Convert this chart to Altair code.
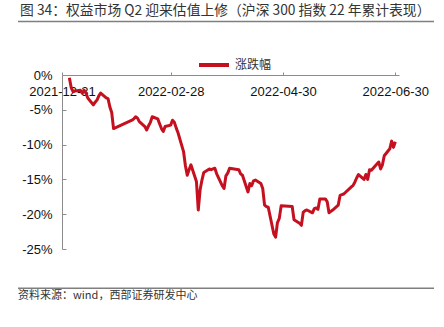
import altair as alt
import pandas as pd

dates = [
    "01-04", "01-05", "01-06", "01-07", "01-10", "01-11", "01-12", "01-13", "01-14",
    "01-17", "01-18", "01-19", "01-20", "01-21", "01-24", "01-25", "01-26", "01-27", "01-28",
    "02-07", "02-08", "02-09", "02-10", "02-11", "02-14", "02-15", "02-16", "02-17", "02-18",
    "02-21", "02-22", "02-23", "02-24", "02-25", "02-28",
    "03-01", "03-02", "03-03", "03-04", "03-07", "03-08", "03-09", "03-10", "03-11",
    "03-14", "03-15", "03-16", "03-17", "03-18", "03-21", "03-22", "03-23", "03-24", "03-25",
    "03-28", "03-29", "03-30", "03-31", "04-01",
    "04-06", "04-07", "04-08", "04-11", "04-12", "04-13", "04-14", "04-15",
    "04-18", "04-19", "04-20", "04-21", "04-22", "04-25", "04-26", "04-27", "04-28", "04-29",
    "05-05", "05-06", "05-09", "05-10", "05-11", "05-12", "05-13",
    "05-16", "05-17", "05-18", "05-19", "05-20", "05-23", "05-24", "05-25", "05-26", "05-27",
    "05-30", "05-31", "06-01", "06-02", "06-06", "06-07", "06-08", "06-09", "06-10",
    "06-13", "06-14", "06-15", "06-16", "06-17", "06-20", "06-21", "06-22", "06-23", "06-24",
    "06-27", "06-28", "06-29", "06-30",
]
values = [
    -0.4, -1.8, -2.4, -2.3, -2.2, -2.6, -2.2, -2.6, -3.3,
    -4.3, -3.9, -3.6, -3.0, -2.6, -3.3, -3.4, -4.6, -5.4, -7.7,
    -6.5, -6.3, -6.0, -6.2, -6.7, -7.4, -7.9, -7.3, -6.8, -6.0,
    -6.3, -7.0, -7.7, -8.1, -7.4, -7.2,
    -6.5, -6.8, -7.6, -8.3, -11.0, -13.0, -14.4, -13.6, -12.9,
    -15.3, -19.4, -16.5, -15.1, -14.0, -13.5, -13.6, -13.5, -13.4, -14.2,
    -15.9, -16.3, -14.5, -14.1, -13.4,
    -13.6, -14.2, -14.4, -16.8, -15.6, -15.9, -15.2, -15.1,
    -15.6, -16.3, -18.7, -18.9, -19.0, -22.8, -23.3, -21.2, -20.6, -18.8,
    -18.9, -20.8, -21.3, -21.6, -19.7, -19.5, -19.4,
    -19.8, -19.2, -19.1, -19.3, -17.8, -17.8, -18.2, -19.8, -19.6, -19.4,
    -18.7, -17.3, -17.2, -17.1, -16.1, -15.9, -15.4, -14.8, -14.3,
    -15.0, -14.3, -15.0, -13.6, -13.7, -12.8, -12.5, -13.5, -12.9, -11.6,
    -10.6, -9.5, -10.4, -9.6,
]
series_name = "涨跌幅"
y_ticks = [0, -5, -10, -15, -20, -25]
title_text = "图 34：权益市场 Q2 迎来估值上修（沪深 300 指数 22 年累计表现）"
source_text = "资料来源：wind，西部证券研发中心"

df = pd.DataFrame({
    "date": ["2022-" + d for d in dates],
    "v": values,
    "s": [series_name] * len(values),
})

W, H = 337, 174
RED = "#c5111f"
CJK = "Noto Sans CJK SC"
LAT = "Liberation Sans"

x_ticks = [
    alt.DateTime(year=2021, month=12, date=31, utc=True),
    alt.DateTime(year=2022, month=2, date=28, utc=True),
    alt.DateTime(year=2022, month=4, date=30, utc=True),
    alt.DateTime(year=2022, month=6, date=30, utc=True),
]
x_scale = alt.Scale(
    type="utc",
    domain=[alt.DateTime(year=2021, month=12, date=31, utc=True),
            alt.DateTime(year=2022, month=7, date=2, utc=True)],
)
y_scale = alt.Scale(domain=[-25, 0], nice=False, zero=False)

x_axis = alt.Axis(orient="top", values=x_ticks,
                  labelExpr="utcFormat(datum.value, '%Y-%m-%d')",
                  domainColor="#8c8c8c", tickColor="#8c8c8c", tickSize=3,
                  labelBaseline="middle", labelPadding=-19,
                  labelFont=LAT, labelFontSize=13, labelColor="#111",
                  grid=False, labelOverlap=False, labelFlush=False)

line = alt.Chart(df).mark_line(strokeWidth=3, strokeJoin="round").encode(
    x=alt.X("date:T", scale=x_scale, title=None, axis=x_axis),
    y=alt.Y("v:Q", scale=y_scale, title=None,
            axis=alt.Axis(values=y_ticks, labelExpr="datum.value + '%'",
                          ticks=False, tickSize=0, labelPadding=10,
                          domainColor="#8c8c8c", labelFont=LAT, labelFontSize=13,
                          labelColor="#111", grid=False)),
    color=alt.Color("s:N", scale=alt.Scale(domain=[series_name], range=[RED]),
                    legend=alt.Legend(orient="none", legendX=135, legendY=-27, title=None,
                                      symbolType="stroke", symbolSize=900,
                                      symbolStrokeWidth=4, labelFont=CJK,
                                      labelFontSize=12, labelColor="#333",
                                      labelOffset=4)),
)

ticks_layer = alt.Chart(df).mark_point(opacity=0).encode(
    x=alt.X("date:T", scale=x_scale, title=None, axis=None),
    y=alt.Y("v:Q", scale=y_scale, title=None,
            axis=alt.Axis(orient="right", offset=-W, values=y_ticks, labels=False,
                          domain=False, tickSize=4, tickColor="#8c8c8c", grid=False)),
)

# decoration: separator lines (title / footer), pixel positions via a 1:1 scale
sep = pd.DataFrame({"k": ["top", "bottom"], "ypix": [-53.5, 213.3]})
sep_rules = alt.Chart(sep).mark_rule(color="#7f7f7f", strokeWidth=1.5).encode(
    x=alt.value(-44), x2=alt.value(372),
    y=alt.Y("ypix:Q", scale=alt.Scale(domain=[-100, 300], range=[-100, 300]), axis=None),
)

one = alt.Data(values=[{"a": 1}])
title_mark = alt.Chart(one).mark_text(
    align="left", baseline="middle", font=CJK, fontSize=13.8, color="#333"
).encode(x=alt.value(-42), y=alt.value(-64), text=alt.value(title_text))
foot_mark = alt.Chart(one).mark_text(
    align="left", baseline="middle", font=CJK, fontSize=11, color="#333"
).encode(x=alt.value(-44), y=alt.value(220.5), text=alt.value(source_text))

chart = alt.layer(
    line, ticks_layer, sep_rules, title_mark, foot_mark
).resolve_scale(x="independent", y="independent").resolve_axis(
    x="independent", y="independent"
).properties(
    width=W, height=H,
    padding={"left": 62, "top": 75, "right": 45, "bottom": 78},
    autosize="none", background="white",
).configure_view(stroke=None)

chart.save("out.html", embed_options={"renderer": "svg", "actions": False})
